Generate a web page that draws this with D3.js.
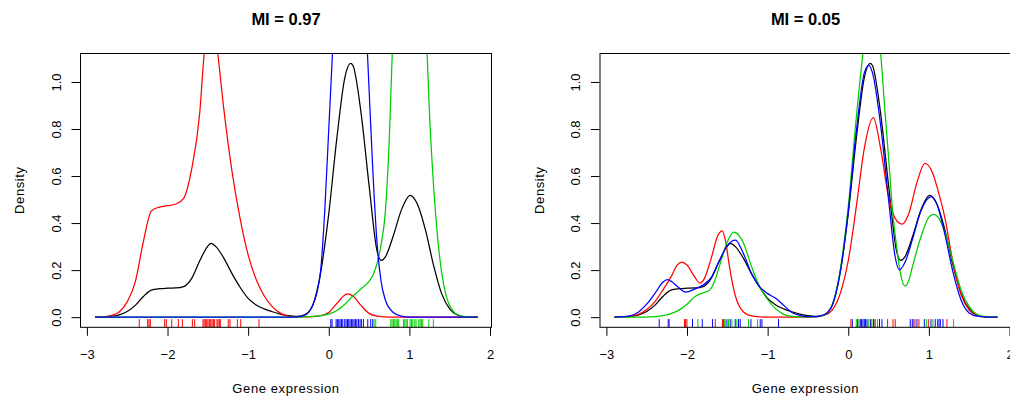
<!DOCTYPE html>
<html>
<head>
<meta charset="utf-8">
<script src="https://cdn.jsdelivr.net/npm/d3@7"></script>
<style>
  body { margin: 0; background: #fff; }
  svg { display: block; }
  text { font-family: "Liberation Sans", Arial, Helvetica, sans-serif; fill: #000; }
</style>
</head>
<body>
<div id="chart"></div>
<script>
// density curves, [gene expression, density]
const densAll = [[-2.9,0],[-2.8,0.001],[-2.7,0.003],[-2.6,0.01],[-2.5,0.024],[-2.4,0.05],[-2.3,0.088],[-2.2,0.115],[-2.1,0.121],[-2.0,0.123],[-1.9,0.124],[-1.8,0.13],[-1.7,0.165],[-1.6,0.24],[-1.5,0.302],[-1.46,0.314],[-1.4,0.3],[-1.3,0.25],[-1.2,0.185],[-1.1,0.127],[-1.0,0.08],[-0.9,0.052],[-0.8,0.035],[-0.7,0.023],[-0.6,0.013],[-0.5,0.006],[-0.4,0.003],[-0.3,0.01],[-0.2,0.05],[-0.1,0.19],[0,0.44],[0.1,0.76],[0.2,1.02],[0.27,1.079],[0.3,1.07],[0.4,0.87],[0.5,0.56],[0.6,0.28],[0.653,0.241],[0.7,0.255],[0.8,0.345],[0.9,0.455],[1.01,0.518],[1.1,0.48],[1.2,0.37],[1.3,0.22],[1.4,0.1],[1.5,0.035],[1.6,0.008],[1.7,0.001],[1.85,0]];

const leftRed = [[-2.9,0],[-2.8,0.002],[-2.7,0.007],[-2.6,0.022],[-2.5,0.065],[-2.4,0.15],[-2.3,0.32],[-2.2,0.452],[-2.1,0.468],[-2.0,0.474],[-1.9,0.48],[-1.8,0.505],[-1.7,0.63],[-1.6,0.87],[-1.55,1.1],[-1.5,1.24],[-1.46,1.27],[-1.42,1.23],[-1.38,1.13],[-1.3,0.88],[-1.2,0.62],[-1.1,0.42],[-1.0,0.265],[-0.9,0.16],[-0.8,0.09],[-0.7,0.045],[-0.6,0.017],[-0.5,0.004],[-0.4,0.001],[-0.3,0.001],[-0.2,0.002],[-0.1,0.006],[0,0.02],[0.1,0.058],[0.2,0.094],[0.235,0.099],[0.3,0.09],[0.4,0.05],[0.5,0.016],[0.6,0.004],[0.7,0.001],[0.8,0],[1.85,0]];
const leftGreen = [[-2.9,0],[-0.4,0],[-0.3,0.001],[-0.2,0.003],[-0.1,0.006],[0,0.013],[0.1,0.028],[0.2,0.055],[0.3,0.09],[0.4,0.12],[0.5,0.152],[0.55,0.18],[0.6,0.23],[0.65,0.31],[0.7,0.44],[0.75,0.75],[0.8,1.25],[0.85,1.7],[0.9,2.0],[1.0,2.2],[1.1,2.0],[1.15,1.7],[1.2,1.3],[1.25,0.86],[1.3,0.56],[1.35,0.34],[1.4,0.19],[1.45,0.1],[1.5,0.048],[1.6,0.01],[1.7,0.002],[1.85,0]];
const leftBlue = [[-2.9,0],[-0.5,0],[-0.4,0.001],[-0.3,0.008],[-0.2,0.05],[-0.15,0.1],[-0.1,0.2],[-0.05,0.45],[0,0.8],[0.05,1.15],[0.1,1.55],[0.15,1.95],[0.2,2.25],[0.26,2.38],[0.32,2.3],[0.38,2.0],[0.43,1.55],[0.48,1.12],[0.5,0.97],[0.55,0.6],[0.6,0.31],[0.65,0.15],[0.7,0.075],[0.8,0.02],[0.9,0.004],[1.0,0],[1.85,0]];

const rightRed = [[-2.9,0],[-2.8,0.001],[-2.7,0.003],[-2.6,0.012],[-2.5,0.032],[-2.4,0.065],[-2.3,0.115],[-2.2,0.17],[-2.12,0.222],[-2.065,0.234],[-2.0,0.222],[-1.9,0.168],[-1.84,0.145],[-1.8,0.155],[-1.7,0.25],[-1.62,0.345],[-1.565,0.367],[-1.52,0.32],[-1.48,0.23],[-1.44,0.15],[-1.4,0.09],[-1.35,0.045],[-1.3,0.022],[-1.2,0.005],[-1.1,0.001],[-1.0,0],[-0.5,0],[-0.4,0.002],[-0.3,0.007],[-0.2,0.03],[-0.1,0.1],[0,0.24],[0.1,0.47],[0.2,0.72],[0.31,0.848],[0.4,0.72],[0.5,0.51],[0.6,0.41],[0.67,0.395],[0.75,0.44],[0.85,0.57],[0.95,0.654],[1.05,0.61],[1.1,0.555],[1.2,0.42],[1.3,0.23],[1.4,0.095],[1.5,0.03],[1.6,0.007],[1.7,0.001],[1.85,0]];
const rightGreen = [[-2.9,0],[-2.5,0],[-2.4,0.002],[-2.3,0.006],[-2.2,0.015],[-2.1,0.03],[-2.0,0.055],[-1.9,0.088],[-1.8,0.103],[-1.72,0.115],[-1.65,0.16],[-1.6,0.215],[-1.5,0.32],[-1.42,0.361],[-1.35,0.345],[-1.3,0.315],[-1.2,0.215],[-1.1,0.13],[-1.0,0.075],[-0.9,0.035],[-0.8,0.012],[-0.7,0.003],[-0.6,0.001],[-0.4,0.001],[-0.3,0.008],[-0.2,0.05],[-0.1,0.2],[0,0.47],[0.1,0.85],[0.2,1.17],[0.3,1.36],[0.4,1.13],[0.45,0.9],[0.5,0.68],[0.55,0.45],[0.6,0.3],[0.65,0.18],[0.704,0.133],[0.75,0.155],[0.8,0.22],[0.9,0.34],[1.0,0.425],[1.055,0.437],[1.1,0.43],[1.2,0.36],[1.3,0.235],[1.4,0.115],[1.5,0.045],[1.6,0.011],[1.7,0.002],[1.85,0]];
const rightBlue = [[-2.9,0],[-2.8,0.002],[-2.7,0.006],[-2.6,0.022],[-2.5,0.055],[-2.4,0.1],[-2.3,0.148],[-2.245,0.159],[-2.2,0.153],[-2.1,0.125],[-2.02,0.106],[-1.9,0.12],[-1.8,0.137],[-1.7,0.168],[-1.6,0.238],[-1.5,0.305],[-1.4,0.328],[-1.3,0.27],[-1.2,0.185],[-1.1,0.13],[-1.0,0.1],[-0.9,0.08],[-0.8,0.05],[-0.7,0.02],[-0.6,0.007],[-0.5,0.002],[-0.4,0.002],[-0.3,0.01],[-0.2,0.05],[-0.1,0.19],[0,0.45],[0.1,0.79],[0.2,1.04],[0.256,1.071],[0.3,1.04],[0.4,0.82],[0.5,0.5],[0.58,0.26],[0.632,0.201],[0.7,0.23],[0.8,0.335],[0.9,0.45],[1.03,0.512],[1.1,0.48],[1.2,0.35],[1.3,0.19],[1.4,0.072],[1.5,0.018],[1.6,0.004],[1.7,0.001],[1.85,0]];

// rug (individual samples)
const leftRugRed = [-2.35,-2.246,-2.23,-2.213,-2.035,-2.015,-1.948,-1.866,-1.816,-1.692,-1.663,-1.56,-1.547,-1.531,-1.514,-1.498,-1.481,-1.464,-1.448,-1.431,-1.415,-1.386,-1.374,-1.357,-1.345,-1.246,-1.225,-1.134,-1.092,-0.865];
const leftRugBlue = [0.025,0.041,0.091,0.107,0.124,0.14,0.157,0.174,0.198,0.215,0.232,0.248,0.264,0.281,0.298,0.314,0.331,0.348,0.368,0.388,0.405,0.43,0.484,0.521,0.546];
const leftRugGreen = [0.562,0.583,0.769,0.785,0.802,0.819,0.835,0.851,0.868,0.926,0.943,0.959,0.975,1.009,1.025,1.042,1.067,1.083,1.116,1.133,1.149,1.166,1.241,1.298];

const rightRugRed = [-2.221,-2.031,-2.018,-2.001,-1.65,-1.56,-1.547,0.033,0.281,0.331,0.488,0.555,0.583,0.827,0.877,0.993,1.108,1.224];
const rightRugBlue = [-2.345,-2.233,-1.932,-1.811,-1.683,-1.505,-1.464,-1.402,-1.361,-1.34,-1.207,-1.092,-1.071,-0.865,0.05,0.116,0.149,0.165,0.182,0.199,0.215,0.232,0.273,0.314,0.388,0.418,0.769,0.794,0.852,0.943,1.026,1.079,1.125,1.142,1.175];
const rightRugGreen = [-1.865,-1.538,-1.526,-1.485,-1.443,-1.381,-1.237,-1.125,0.099,0.133,0.248,0.294,0.335,0.364,0.81,0.968,1.051,1.306];

const xTicks = [-3, -2, -1, 0, 1, 2];
const yTicks = [0, 0.2, 0.4, 0.6, 0.8, 1.0];
const titles = ['MI = 0.97', 'MI = 0.05'];

const RED = '#ff0000', GREEN = '#00cd00', BLUE = '#0000ff';

const width = 1010, height = 396;
const plotW = 412, plotH = 274.3, plotTop = 53;

const svg = d3.select('#chart')
  .append('svg')
  .attr('width', width)
  .attr('height', height);

svg.append('defs').append('clipPath').attr('id', 'plotClip')
  .append('rect').attr('width', plotW).attr('height', plotH);

const x = d3.scaleLinear().domain([-3.0856, 2.0248]).range([0, plotW]);
const y = d3.scaleLinear().domain([-0.0432, 1.1232]).range([plotH, 0]);

const line = d3.line()
  .x((d) => x(d[0]))
  .y((d) => y(d[1]))
  .curve(d3.curveMonotoneX);

const fmtX = (v) => (v < 0 ? '\u2212' + Math.abs(v) : String(v));

function drawPanel(left, title, curves, rugs) {
  const g = svg.append('g').attr('transform', `translate(${left},${plotTop})`);

  g.append('g')
    .attr('clip-path', 'url(#plotClip)')
    .selectAll('path')
    .data(curves)
    .join('path')
      .attr('d', (d) => line(d.values))
      .attr('fill', 'none')
      .attr('stroke', (d) => d.color)
      .attr('stroke-width', 1.25);

  // rug ticks point up from the bottom edge
  g.append('g')
    .selectAll('line')
    .data(rugs.flatMap((r) => r.values.map((v) => ({ v, color: r.color }))))
    .join('line')
      .attr('x1', (d) => x(d.v))
      .attr('x2', (d) => x(d.v))
      .attr('y1', plotH)
      .attr('y2', plotH - 8.2)
      .attr('stroke', (d) => d.color)
      .attr('stroke-width', 1);

  g.append('rect')
    .attr('x', 0.5).attr('y', 0.5)
    .attr('width', plotW - 1).attr('height', plotH - 0.5)
    .attr('fill', 'none')
    .attr('stroke', '#000');

  const xAxis = g.append('g')
    .attr('transform', `translate(0,${plotH})`)
    .call(d3.axisBottom(x).tickValues(xTicks).tickSize(8.5).tickFormat(fmtX));
  xAxis.attr('font-family', null).attr('font-size', null);
  xAxis.select('.domain').remove();
  xAxis.selectAll('text')
    .attr('y', 31.7)
    .attr('dy', null)
    .style('font-size', '13px');

  const yAxis = g.append('g')
    .call(d3.axisLeft(y).tickValues(yTicks).tickSize(8.5).tickFormat(d3.format('.1f')));
  yAxis.attr('font-family', null).attr('font-size', null);
  yAxis.select('.domain').remove();
  yAxis.selectAll('text')
    .attr('x', 0)
    .attr('y', -19.5)
    .attr('dy', null)
    .attr('text-anchor', 'middle')
    .attr('transform', 'rotate(-90)')
    .style('font-size', '13px');

  g.append('text')
    .attr('x', plotW / 2)
    .attr('y', 24.5 - plotTop)
    .attr('text-anchor', 'middle')
    .style('font-size', '16.5px')
    .style('font-weight', 'bold')
    .text(title);

  g.append('text')
    .attr('x', plotW / 2)
    .attr('y', 392.5 - plotTop)
    .attr('text-anchor', 'middle')
    .style('font-size', '13px')
    .style('letter-spacing', '0.6px')
    .text('Gene expression');

  g.append('text')
    .attr('transform', `translate(-56,${plotH / 2}) rotate(-90)`)
    .attr('text-anchor', 'middle')
    .style('font-size', '13px')
    .style('letter-spacing', '0.6px')
    .text('Density');
}

drawPanel(80, titles[0],
  [
    { color: '#000', values: densAll },
    { color: RED, values: leftRed },
    { color: GREEN, values: leftGreen },
    { color: BLUE, values: leftBlue },
  ],
  [
    { color: RED, values: leftRugRed },
    { color: BLUE, values: leftRugBlue },
    { color: GREEN, values: leftRugGreen },
  ]);

drawPanel(599.5, titles[1],
  [
    { color: '#000', values: densAll },
    { color: RED, values: rightRed },
    { color: GREEN, values: rightGreen },
    { color: BLUE, values: rightBlue },
  ],
  [
    { color: RED, values: rightRugRed },
    { color: GREEN, values: rightRugGreen },
    { color: BLUE, values: rightRugBlue },
  ]);
</script>
</body>
</html>
